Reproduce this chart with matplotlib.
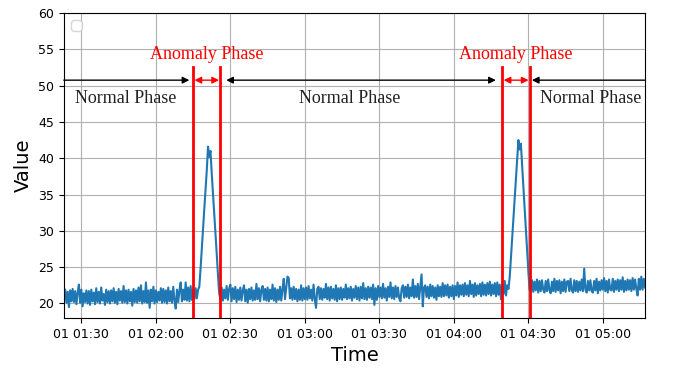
import matplotlib
matplotlib.use('Agg')
import matplotlib.pyplot as plt
import matplotlib.dates as mdates
import numpy as np
import pandas as pd

###################################################################
# DATA (sampled every 30 s, read off the picture)
sample_step = '30s'

normal1_start = '2021-01-01 01:23:00'
normal1 = [
    20.4, 21.9, 20.1, 21.6, 19.5, 21.8, 20.3, 22.0, 20.2, 21.7,
    19.9, 21.5, 22.6, 20.1, 21.9, 19.6, 21.4, 20.2, 21.8, 20.0,
    21.7, 19.8, 21.9, 20.3, 21.5, 19.9, 22.1, 20.2, 21.6, 20.0,
    22.2, 20.4, 21.3, 19.8, 21.9, 20.2, 21.7, 20.0, 21.8, 20.3,
    22.1, 20.1, 21.6, 19.9, 22.0, 20.4, 21.7, 20.1, 22.4, 20.2,
    21.8, 20.0, 21.9, 20.3, 21.6, 19.7, 22.0, 20.2, 21.8, 20.1,
    22.2, 20.3, 22.5, 20.0, 21.7, 20.2, 22.9, 20.1, 21.8, 19.4,
    21.9, 20.3, 22.3, 20.0, 21.8, 20.2, 21.6, 20.4, 22.1, 20.1,
    22.0, 20.2, 21.8, 20.0, 22.2, 20.3, 21.7, 20.1, 22.3, 20.4,
    19.3, 21.9, 20.2, 21.8, 22.9, 20.3, 21.9, 20.5, 22.9, 20.4,
    22.2, 20.3, 22.4, 20.5, 21.9, 20.6, 22.1, 20.7,
]

spike1_start = '2021-01-01 02:17:00'
spike1 = [21.9, 22.3, 24.8, 27.6, 30.2, 33.0, 35.7, 38.3, 41.6,
          40.2, 41.0, 37.9, 35.2, 32.4, 29.6, 26.9, 24.0, 21.4]

normal2_start = '2021-01-01 02:26:00'
normal2 = [
    20.6, 22.2, 20.4, 21.9, 20.7, 22.4, 20.5, 22.0, 22.6, 20.3,
    22.1, 20.6, 22.3, 20.2, 21.9, 20.5, 22.2, 20.4, 21.8, 22.5,
    20.3, 21.9, 20.1, 22.0, 20.6, 22.2, 20.4, 21.8, 20.5, 22.7,
    20.6, 22.1, 20.3, 21.9, 22.4, 20.5, 22.0, 20.4, 22.2, 20.3,
    21.9, 20.6, 22.6, 20.4, 22.1, 20.2, 21.9, 20.5, 22.3, 20.4,
    22.0, 23.4, 20.6, 22.2, 23.7, 23.5, 20.7, 22.1, 20.5, 22.3,
    20.6, 22.0, 20.3, 21.9, 20.5, 22.5, 20.4, 22.1, 20.6, 22.2,
    20.5, 22.4, 20.7, 21.9, 20.4, 22.6, 20.6, 19.4, 22.0, 22.3,
    20.6, 22.1, 20.5, 22.0, 20.8, 22.7, 20.6, 22.2, 20.4, 22.3,
    20.7, 22.0, 20.5, 22.5, 20.3, 22.1, 20.6, 22.2, 20.5, 22.0,
    20.8, 22.6, 20.6, 22.1, 20.7, 22.3, 20.4, 22.0, 20.8, 22.4,
    20.6, 22.2, 20.4, 22.3, 20.7, 22.8, 20.6, 22.1, 20.5, 22.3,
    20.8, 22.2, 20.6, 22.6, 19.8, 22.1, 20.5, 22.4, 20.9, 22.2,
    20.7, 22.7, 20.8, 22.1, 20.4, 22.3, 20.9, 22.9, 20.7, 22.2,
    20.6, 22.4, 20.9, 22.2, 20.7, 20.3, 22.1, 22.5, 20.8, 22.3,
    20.9, 22.6, 20.7, 22.2, 21.0, 23.3, 20.8, 22.4, 20.9, 22.7,
    20.6, 22.3, 24.0, 19.6, 22.2, 22.5, 20.9, 22.3, 20.7, 22.6,
    21.0, 22.4, 20.8, 22.2, 20.5, 22.5, 21.0, 22.3, 20.9, 22.8,
    21.0, 22.5, 21.1, 22.6, 20.8, 22.3, 21.0, 22.5, 20.6, 22.4,
    21.1, 22.9, 20.9, 22.5, 21.2, 22.6, 21.0, 22.8, 21.2, 22.5,
    21.0, 23.1, 21.3, 22.6, 20.9, 22.8, 21.1, 22.5, 21.3, 22.7,
    21.0, 22.9, 21.2, 22.6, 21.1, 22.8, 21.3, 23.0, 21.1, 22.6,
    21.3, 22.8, 21.0, 22.9, 21.2, 22.6, 20.6, 22.7, 21.3, 23.1,
    21.1, 22.5,
]

spike2_start = '2021-01-01 04:22:00'
spike2 = [22.0, 23.6, 26.3, 29.1, 31.8, 34.6, 37.3, 40.0, 42.5,
          41.2, 42.0, 39.0, 36.1, 33.2, 30.3, 27.4, 24.5, 21.9]

normal3_start = '2021-01-01 04:31:00'
normal3 = [
    21.7, 23.2, 21.6, 23.0, 21.8, 23.3, 21.5, 23.1, 21.7, 23.2,
    21.9, 21.5, 23.1, 21.7, 23.3, 21.8, 21.4, 23.0, 21.7, 23.4,
    21.6, 23.1, 21.8, 23.2, 21.4, 23.0, 21.7, 23.3, 21.6, 23.0,
    23.1, 21.7, 23.4, 21.8, 21.5, 23.2, 21.7, 23.1, 21.6, 23.0,
    21.8, 23.3, 21.7, 24.8, 21.9, 21.5, 23.1, 21.8, 23.2, 21.7,
    21.5, 23.1, 21.8, 23.4, 21.4, 23.0, 21.8, 23.2, 21.9, 23.5,
    21.7, 23.1, 21.5, 23.3, 21.9, 21.8, 23.4, 21.6, 23.1, 21.9,
    23.3, 21.7, 23.2, 21.9, 23.6, 21.6, 23.1, 21.8, 23.3, 21.9,
    23.2, 21.7, 23.5, 21.9, 23.3, 22.0, 21.1, 23.4, 21.9, 23.7,
    21.9, 23.4, 22.2,
]

# anomaly windows (red lines)
anomaly_bounds = ['2021-01-01 02:15:00', '2021-01-01 02:26:00',
                  '2021-01-01 04:19:30', '2021-01-01 04:30:40']
# ends of the black "normal phase" arrows
normal_arrows = [('2021-01-01 01:22:55', '2021-01-01 02:13:30'),
                 ('2021-01-01 02:28:20', '2021-01-01 04:16:55'),
                 ('2021-01-01 04:31:25', '2021-01-01 05:16:50')]
normal_text_at = ['2021-01-01 01:48:00', '2021-01-01 03:18:00', '2021-01-01 04:55:00']

###################################################################

segments = [(normal1_start, normal1), (spike1_start, spike1), (normal2_start, normal2),
            (spike2_start, spike2), (normal3_start, normal3)]
parts = []
for start, vals in segments:
    idx = pd.date_range(start, periods=len(vals), freq=sample_step)
    parts.append(pd.Series(vals, index=idx))
series = pd.concat(parts)

fig = plt.figure(figsize=(6.75, 3.68), dpi=100)
ax = fig.add_axes([0.0948, 0.1359, 0.8608, 0.8288])

ax.plot(series.index, series.values, color='#1f77b4', lw=1.5)

bounds = pd.to_datetime(anomaly_bounds)
for b in bounds:
    ax.axvline(b, ymin=0, ymax=0.824, color='red', lw=2, zorder=3)

arrow_y = 50.75
serif = 'Liberation Serif'

# normal phase arrows
left_start, left_end = pd.to_datetime(normal_arrows[0])
ax.annotate('', xy=(left_end, arrow_y), xytext=(left_start, arrow_y),
            arrowprops=dict(arrowstyle='-|>', color='black', lw=1, shrinkA=0, shrinkB=0))
mid_start, mid_end = pd.to_datetime(normal_arrows[1])
ax.annotate('', xy=(mid_end, arrow_y), xytext=(mid_start, arrow_y),
            arrowprops=dict(arrowstyle='<|-|>', color='black', lw=1, shrinkA=0, shrinkB=0))
right_start, right_end = pd.to_datetime(normal_arrows[2])
ax.annotate('', xy=(right_start, arrow_y), xytext=(right_end, arrow_y),
            arrowprops=dict(arrowstyle='-|>', color='black', lw=1, shrinkA=0, shrinkB=0))

# anomaly phase arrows + labels
for a, b in [(bounds[0], bounds[1]), (bounds[2], bounds[3])]:
    ax.annotate('', xy=(b, arrow_y), xytext=(a, arrow_y),
                arrowprops=dict(arrowstyle='<|-|>', color='red', lw=1, shrinkA=1, shrinkB=1))
    ax.text(a + (b - a) / 2, 53.6, 'Anomaly Phase', color='red', ha='center',
            va='baseline', fontsize=13, family=serif)

for t in pd.to_datetime(normal_text_at):
    ax.text(t, 47.65, 'Normal Phase', color='#222222', ha='center',
            va='baseline', fontsize=13, family=serif)

ax.set_xlim(series.index[0], series.index[-1])
ax.set_ylim(18, 60)
ax.set_yticks(np.arange(20, 61, 5))
ax.xaxis.set_major_locator(mdates.MinuteLocator(byminute=[0, 30]))
ax.xaxis.set_major_formatter(mdates.DateFormatter('%d %H:%M'))
ax.tick_params(labelsize=9)
ax.grid(True)
ax.set_xlabel('Time', fontsize=14)
ax.set_ylabel('Value', fontsize=14)
ax.legend(handles=[], loc='upper left')

plt.savefig('out.png', dpi=100)
